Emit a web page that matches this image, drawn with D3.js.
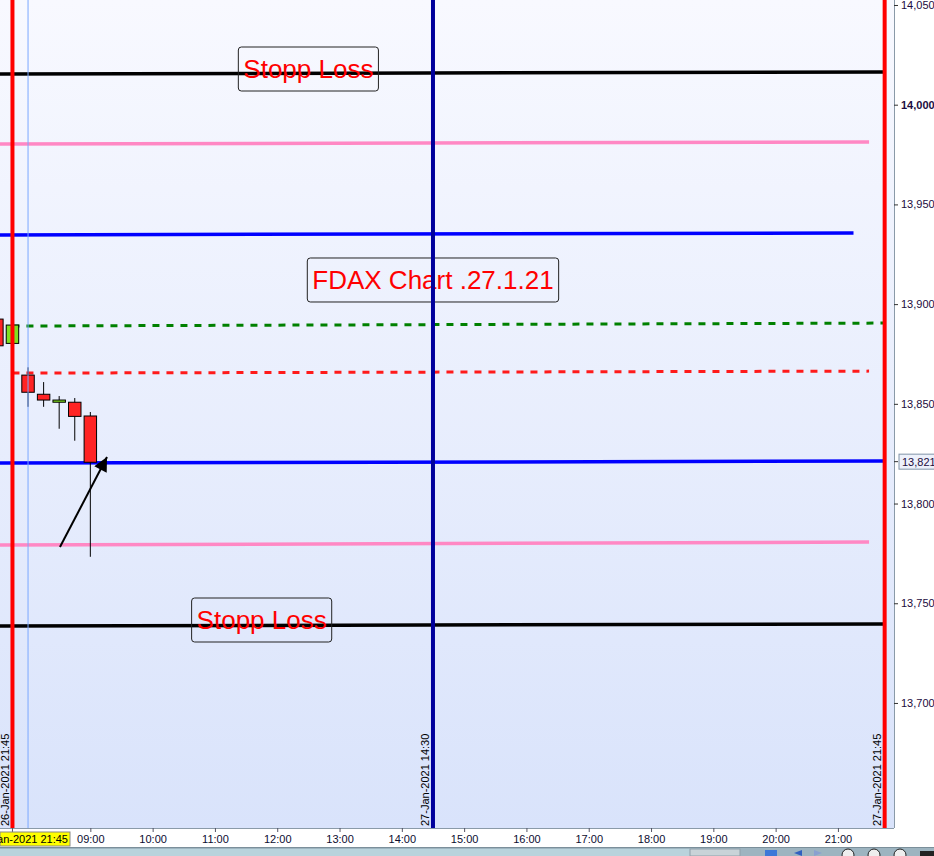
<!DOCTYPE html>
<html>
<head>
<meta charset="utf-8">
<script src="https://cdn.jsdelivr.net/npm/d3@7"></script>
<style>
  body { margin: 0; overflow: hidden; background: #fff; }
  text { font-family: "Liberation Sans", Arial, sans-serif; }
</style>
</head>
<body>
<script>
// 15 minute slots, slot 0 = 27-Jan-2021 08:00, negative slots = end of 26-Jan session
var candleSlot = [-2, -1, 0, 1, 2, 3, 4];
var candleTime = ["26-Jan-2021 21:30", "26-Jan-2021 21:45", "27-Jan-2021 08:00", "27-Jan-2021 08:15",
  "27-Jan-2021 08:30", "27-Jan-2021 08:45", "27-Jan-2021 09:00"];
var candleOpen = [13892.5, 13880.3, 13864.4, 13854.8, 13850.8, 13850.8, 13843.9];
var candleHigh = [13894, 13890.5, 13868.3, 13860.9, 13853.9, 13852.9, 13845.9];
var candleLow = [13878, 13879.8, 13848.5, 13848.5, 13837.5, 13831.5, 13773.3];
var candleClose = [13879.1, 13889.5, 13855.8, 13851.9, 13851.9, 13843.7, 13820.7];

var hourLabels = ["09:00", "10:00", "11:00", "12:00", "13:00", "14:00", "15:00", "16:00",
  "17:00", "18:00", "19:00", "20:00", "21:00"];
var hourSlots = [4, 8, 12, 16, 20, 24, 28, 32, 36, 40, 44, 48, 52];
var priceTicks = [13700, 13750, 13800, 13850, 13900, 13950, 14000, 14050];

// drawn horizontal levels (price at first and last slot)
var levelFrom = [-2, -2, -2, -1, -1, -2, -2, -2];
var levelTo = [55, 54, 53, 55, 54, 55, 54, 55];
var levelStart = [14015.4, 13980.3, 13934.7, 13889.0, 13865.4, 13820.3, 13779.2, 13738.6];
var levelEnd = [14016.4, 13981.3, 13935.7, 13890.5, 13866.4, 13821.3, 13780.7, 13739.6];
var levelColor = ["#000000", "#ff88c4", "#0000ff", "#008000", "#ff1a1a", "#0000ff", "#ff88c4", "#000000"];
var levelDash = [null, null, null, "7,7", "7,7", null, null, null];

// vertical time markers
var markerSlot = [-1, 0, 26, 55];
var markerLabel = ["26-Jan-2021 21:45", "", "27-Jan-2021 14:30", "27-Jan-2021 21:45"];
var markerColor = ["#ff0000", "#7aa8ff", "#00009c", "#ff0000"];
var markerWidth = [4, 1, 4, 4];

// text notes
var noteText = ["Stopp Loss", "FDAX Chart .27.1.21", "Stopp Loss"];
var noteSlot = [18, 26, 15];
var notePrice = [14017.9, 13912.1, 13741.6];

// arrow
var arrowSlot = [2.05, 5.07];
var arrowPrice = [13778.2, 13823.3];

var lastPrice = 13821;
var crossTime = "26-Jan-2021 21:45";

var W = 934, H = 856;
var plotW = 894, plotH = 828;

var svg = d3.select("body").append("svg")
  .attr("width", W)
  .attr("height", H);

var defs = svg.append("defs");
var grad = defs.append("linearGradient").attr("id", "bg")
  .attr("x1", 0).attr("y1", 0).attr("x2", 0).attr("y2", 1);
grad.append("stop").attr("offset", "0%").attr("stop-color", "#f8f9ff");
grad.append("stop").attr("offset", "100%").attr("stop-color", "#d9e3fb");
defs.append("clipPath").attr("id", "clip")
  .append("rect").attr("width", plotW).attr("height", plotH);
defs.append("marker").attr("id", "head")
  .attr("viewBox", "0 0 10 10").attr("refX", 10).attr("refY", 5)
  .attr("markerWidth", 8).attr("markerHeight", 7).attr("markerUnits", "strokeWidth")
  .attr("orient", "auto")
  .append("path").attr("d", "M0,0 L10,5 L0,10 Z").attr("fill", "#000");

var x = d3.scaleLinear().domain([-1.8, 55.6]).range([0, plotW]);
var y = d3.scaleLinear().domain([13637.3, 14052.5]).range([plotH, 0]);

svg.append("rect").attr("width", plotW).attr("height", plotH).attr("fill", "url(#bg)");

var plot = svg.append("g").attr("clip-path", "url(#clip)");

// horizontal levels
for (let i = 0; i < levelStart.length; i++) {
  plot.append("line")
    .attr("x1", x(levelFrom[i])).attr("y1", y(levelStart[i]))
    .attr("x2", x(levelTo[i])).attr("y2", y(levelEnd[i]))
    .attr("stroke", levelColor[i])
    .attr("stroke-width", levelDash[i] ? 3 : 3.5)
    .attr("stroke-dasharray", levelDash[i]);
}

// candles
for (let i = 0; i < candleSlot.length; i++) {
  let cx = x(candleSlot[i]);
  let bw = (x(1) - x(0)) * 0.8;
  let up = candleClose[i] >= candleOpen[i];
  plot.append("line")
    .attr("x1", cx).attr("x2", cx)
    .attr("y1", y(candleHigh[i])).attr("y2", y(candleLow[i]))
    .attr("stroke", "#000").attr("stroke-width", 1);
  plot.append("rect")
    .attr("x", cx - bw / 2)
    .attr("y", y(Math.max(candleOpen[i], candleClose[i])))
    .attr("width", bw)
    .attr("height", Math.max(1, Math.abs(y(candleOpen[i]) - y(candleClose[i]))))
    .attr("fill", up ? "#80e020" : "#ff2424")
    .attr("stroke", "#000").attr("stroke-width", 1)
    .append("title").text(candleTime[i]);
}

// arrow
plot.append("line")
  .attr("x1", x(arrowSlot[0])).attr("y1", y(arrowPrice[0]))
  .attr("x2", x(arrowSlot[1])).attr("y2", y(arrowPrice[1]))
  .attr("stroke", "#000").attr("stroke-width", 2)
  .attr("marker-end", "url(#head)");

// notes
for (let i = 0; i < noteText.length; i++) {
  let g = plot.append("g");
  let t = g.append("text")
    .attr("x", x(noteSlot[i])).attr("y", y(notePrice[i]))
    .attr("text-anchor", "middle").attr("dy", "0.35em")
    .attr("font-size", 26).attr("fill", "#ff0000")
    .text(noteText[i]);
  let bb = t.node().getBBox();
  g.insert("rect", "text")
    .attr("x", bb.x - 5).attr("y", y(notePrice[i]) - 22)
    .attr("width", bb.width + 10).attr("height", 44)
    .attr("rx", 3)
    .attr("fill", "none").attr("stroke", "#222").attr("stroke-width", 1);
}

// vertical markers
for (let i = 0; i < markerSlot.length; i++) {
  let mx = x(markerSlot[i]);
  plot.append("line")
    .attr("x1", mx).attr("x2", mx).attr("y1", 0).attr("y2", plotH)
    .attr("stroke", markerColor[i]).attr("stroke-width", markerWidth[i]);
  if (markerLabel[i]) {
    plot.append("text")
      .attr("transform", "translate(" + (mx - 3.5) + "," + (plotH - 2) + ") rotate(-90)")
      .attr("font-size", 11).attr("fill", "#000")
      .text(markerLabel[i]);
  }
}

// y axis on the right
var yAxis = svg.append("g")
  .attr("transform", "translate(" + plotW + ",0)")
  .call(d3.axisRight(y).tickValues(priceTicks).tickFormat(d3.format(",")).tickSize(4).tickPadding(3));
yAxis.select(".domain").attr("stroke", "#8a9aa8").attr("d", "M0.5,0V" + plotH);
yAxis.selectAll(".tick line").attr("stroke", "#333");
yAxis.selectAll(".tick text")
  .attr("font-size", 11).attr("fill", "#1c0c40")
  .attr("font-weight", function (d) { return d === 14000 ? "bold" : null; });
yAxis.attr("font-family", null);

// last price box
var lp = svg.append("g").attr("transform", "translate(" + plotW + "," + y(lastPrice) + ")");
lp.append("line").attr("x1", 0).attr("x2", 4).attr("stroke", "#333");
lp.append("rect").attr("x", 5).attr("y", -7.5).attr("width", 40).attr("height", 15)
  .attr("fill", "#edf1fb").attr("stroke", "#8094a8");
lp.append("text").attr("x", 8).attr("dy", "0.35em").attr("font-size", 11).attr("fill", "#1c0c40")
  .text(d3.format(",")(lastPrice));

// x axis
svg.append("rect").attr("y", plotH).attr("width", W).attr("height", H - plotH).attr("fill", "#fff");
var xAxis = svg.append("g")
  .attr("transform", "translate(0," + plotH + ")")
  .call(d3.axisBottom(x).tickValues(hourSlots)
    .tickFormat(function (d, i) { return hourLabels[i]; }).tickSize(4).tickPadding(3));
xAxis.select(".domain").attr("stroke", "#8a9aa8").attr("d", "M0,0.5H" + plotW);
xAxis.selectAll(".tick line").attr("stroke", "#556");
xAxis.selectAll(".tick text").attr("font-size", 11).attr("fill", "#0c0c30");
xAxis.attr("font-family", null);
svg.append("line").attr("x1", x(-1)).attr("x2", x(-1)).attr("y1", plotH).attr("y2", plotH + 4).attr("stroke", "#556");

// crosshair time label
svg.append("rect").attr("x", 0).attr("y", plotH + 4).attr("width", 70).attr("height", 14)
  .attr("fill", "#ffff00").attr("stroke", "#888");
svg.append("text").attr("x", 68).attr("y", plotH + 15).attr("text-anchor", "end")
  .attr("font-size", 11).attr("fill", "#000").text(crossTime);

// toolbar strip
var tb = svg.append("g").attr("transform", "translate(0,847)");
tb.append("rect").attr("width", W).attr("height", 9).attr("fill", "#9db4c0");
tb.append("line").attr("x1", 0).attr("x2", W).attr("y1", 0.5).attr("y2", 0.5).attr("stroke", "#7b8f9a");
tb.append("rect").attr("x", 0).attr("y", 2).attr("width", 690).attr("height", 7).attr("fill", "#b9d3dc");
tb.append("rect").attr("x", 690).attr("y", 2).attr("width", 50).attr("height", 7).attr("fill", "#c9d3d8").attr("stroke", "#8fa0aa");
tb.append("rect").attr("x", 765).attr("y", 3).attr("width", 12).attr("height", 6).attr("fill", "#3c78d8");
tb.append("path").attr("d", "M794,6 l8,-3 v6 z").attr("fill", "#3060c0");
tb.append("path").attr("d", "M822,6 l-8,-3 v6 z").attr("fill", "#8aa0d0");
[848, 874, 900].forEach(function (cx) {
  tb.append("circle").attr("cx", cx).attr("cy", 8).attr("r", 6).attr("fill", "#eee").attr("stroke", "#222");
});
tb.append("rect").attr("x", 920).attr("y", 4).attr("width", 14).attr("height", 5).attr("fill", "#222");
</script>
</body>
</html>
